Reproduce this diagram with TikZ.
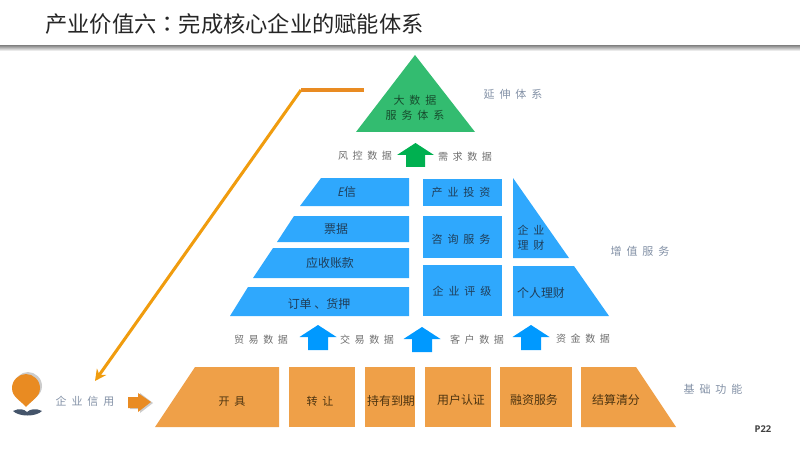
\documentclass[tikz,border=0pt]{standalone}
\usepackage{fontspec}
\setmainfont{Noto Sans CJK SC}
\newfontfamily\cjkwide[WordSpace=2]{Noto Sans CJK SC}
\newfontfamily\cjktc{Noto Sans CJK TC}
\newfontfamily\latinsans{Open Sans}
\usetikzlibrary{arrows.meta}
\definecolor{baseOrange}{HTML}{EFA048}
\definecolor{midBlue}{HTML}{2FA8FD}
\definecolor{topGreen}{HTML}{33BC70}
\definecolor{arrowGreen}{HTML}{00B050}
\definecolor{arrowBlue}{HTML}{0099FF}
\definecolor{pinOrange}{HTML}{E98B22}
\definecolor{pinDark}{HTML}{44546A}
\definecolor{lineOrange}{HTML}{E98B22}
\definecolor{lineYellow}{HTML}{F09C0E}
\definecolor{textGray}{HTML}{6E6E6E}
\definecolor{textSide}{HTML}{8391A6}
\definecolor{textOnBlue}{HTML}{1F3D58}
\definecolor{textOnOrange}{HTML}{4D3410}
\definecolor{textOnGreen}{HTML}{174D2E}
\tikzset{
  lblLine/.style={inner sep=0pt, text height=8.5pt, text depth=1pt},
  lblBlue/.style={lblLine, text=textOnBlue, font=\fontsize{10.2pt}{12.5pt}\selectfont},
  lblBlueW/.style={lblBlue, font=\fontsize{9.4pt}{12.5pt}\cjkwide},
  lblOrange/.style={lblLine, text=textOnOrange, font=\fontsize{10.2pt}{12.5pt}\selectfont},
  lblOrangeW/.style={lblOrange, font=\fontsize{9.4pt}{12.5pt}\cjkwide},
  lblGreen/.style={inner sep=0pt, align=center, text=textOnGreen, font=\fontsize{9.4pt}{12.8pt}\cjkwide},
  lblData/.style={lblLine, text=textGray, font=\fontsize{8.6pt}{11pt}\cjkwide},
  lblSide/.style={lblLine, text=textSide, font=\fontsize{9.4pt}{12pt}\cjkwide},
}
\begin{document}
\begin{tikzpicture}[x=0.03cm, y=-0.03cm]
    \useasboundingbox (0,0) rectangle (800,450);
    % title band
    \shade[top color=black!42, bottom color=white] (0,46) rectangle (800,51);
    \node[anchor=west, inner sep=0pt, text=black!85, font=\fontsize{19pt}{22pt}\selectfont] (title) at (45,24)
      {产业价值六{\cjktc ：}完成核心企业的赋能体系};
    % top
    \fill[topGreen] (415,55) -- (475,132) -- (356,132) -- cycle;
    \node[lblGreen] (bigdata) at (415,108) {大 数 据\\服 务 体 系};
    \fill[arrowGreen] (415.5,143) -- ++(18.5,12) -- ++(-9,0) -- ++(0,12) -- ++(-19,0) -- ++(0,-12) -- ++(-9,0) -- cycle;
    \node[lblData] (risk) at (365,155) {风 控 数 据};
    \node[lblData] (demand) at (465,156) {需 求 数 据};
    \node[lblSide] (sideTop) at (513,94) {延 伸 体 系};
    % middle, left column
    \fill[midBlue] (321,178) -- (409,178) -- (409,206) -- (300,206) -- cycle;
    \fill[midBlue] (294,216) -- (409,216) -- (409,242) -- (277,242) -- cycle;
    \fill[midBlue] (273,248) -- (409,248) -- (409,278) -- (253,278) -- cycle;
    \fill[midBlue] (248,287) -- (409,287) -- (409,316) -- (230,316) -- cycle;
    \node[lblBlue] (eletter) at (347,192) {{\latinsans\itshape E}信};
    \node[lblBlue] (bill) at (336,229) {票据};
    \node[lblBlue] (receive) at (330,263) {应收账款};
    \node[lblBlue] (order) at (319,304) {订单 、货押};
    % middle column
    \fill[midBlue] (423,179) rectangle (502,206);
    \fill[midBlue] (423,216) rectangle (502,258);
    \fill[midBlue] (423,265) rectangle (502,316);
    \node[lblBlueW] (invest) at (461,192) {产 业 投 资};
    \node[lblBlueW] (consult) at (461,239) {咨 询 服 务};
    \node[lblBlueW] (rating) at (462,291) {企 业 评 级};
    % right column
    \fill[midBlue] (513,178) -- (569,258) -- (513,258) -- cycle;
    \fill[midBlue] (513,266) -- (574,266) -- (609,316) -- (513,316) -- cycle;
    \node[inner sep=0pt, align=left, text=textOnBlue, font=\fontsize{9.4pt}{12.5pt}\cjkwide] (corpfin) at (531,238) {企 业\\理 财};
    \node[lblBlue] (perfin) at (541,293) {个人理财};
    \node[lblSide] (sideMid) at (640,251) {增 值 服 务};
    % data arrows
    \foreach \x/\y in {318/325, 422/327, 531/325}
      \fill[arrowBlue] (\x,\y) -- ++(18.5,12) -- ++(-8.5,0) -- ++(0,13) -- ++(-20,0) -- ++(0,-13) -- ++(-8.5,0) -- cycle;
    \node[lblData] (trade) at (261,339) {贸 易 数 据};
    \node[lblData] (deal) at (367,339) {交 易 数 据};
    \node[lblData] (client) at (477,339) {客 户 数 据};
    \node[lblData] (fund) at (583,338) {资 金 数 据};
    % base
    \fill[baseOrange] (195,367) -- (279,367) -- (279,427) -- (155,427) -- cycle;
    \fill[baseOrange] (289,367) rectangle (355,427);
    \fill[baseOrange] (365,367) rectangle (415,427);
    \fill[baseOrange] (425,367) rectangle (491,427);
    \fill[baseOrange] (500,367) rectangle (572,427);
    \fill[baseOrange] (581,367) -- (636,367) -- (676,427) -- (581,427) -- cycle;
    \node[lblOrangeW] (issue) at (232,401) {开 具};
    \node[lblOrangeW] (transfer) at (320,401) {转 让};
    \node[lblOrange] (hold) at (391,401) {持有到期};
    \node[lblOrange] (auth) at (461,400) {用户认证};
    \node[lblOrange] (loan) at (534,400) {融资服务};
    \node[lblOrange] (settle) at (616,400) {结算清分};
    \node[lblSide] (sideBase) at (713,389) {基 础 功 能};
    % credit pin
    \fill[black!20, shift={(2,-2)}] (26,407) .. controls (20,400) and (12,397) .. (12,388)
      .. controls (12,380) and (19,374) .. (26,374) .. controls (33,374) and (40,380) .. (40,388)
      .. controls (40,397) and (32,400) .. (26,407) -- cycle;
    \fill[pinOrange] (26,407) .. controls (20,400) and (12,397) .. (12,388)
      .. controls (12,380) and (19,374) .. (26,374) .. controls (33,374) and (40,380) .. (40,388)
      .. controls (40,397) and (32,400) .. (26,407) -- cycle;
    \fill[pinDark] (13,411) .. controls (19,408) and (24,409) .. (27,412)
      .. controls (30,409) and (36,408) .. (42,411) .. controls (36,417) and (19,417) .. (13,411) -- cycle;
    \node[lblSide] (credit) at (85,401) {企 业 信 用};
    \fill[black!20] (153,403) -- ++(-13,-10) -- ++(0,5) -- ++(-10,0) -- ++(0,11) -- ++(10,0) -- ++(0,4) -- cycle;
    \fill[pinOrange] (151,402) -- ++(-13,-9) -- ++(0,4) -- ++(-10,0) -- ++(0,11) -- ++(10,0) -- ++(0,4) -- cycle;
    % credit line
    \coordinate (lineStart) at (364,90);
    \coordinate (lineBend) at (301,90);
    \coordinate (lineEnd) at (95,381);
    \draw[lineYellow, line width=2.6pt, -{Stealth[length=3.4mm, width=3.4mm]}] (lineBend) -- (lineEnd);
    \draw[lineOrange, line width=2.6pt] (lineStart) -- (lineBend);
    \node[inner sep=0pt, text=black!75, font=\fontsize{8pt}{10pt}\latinsans\bfseries] (page) at (763,429) {P22};
  \end{tikzpicture}
\end{document}
